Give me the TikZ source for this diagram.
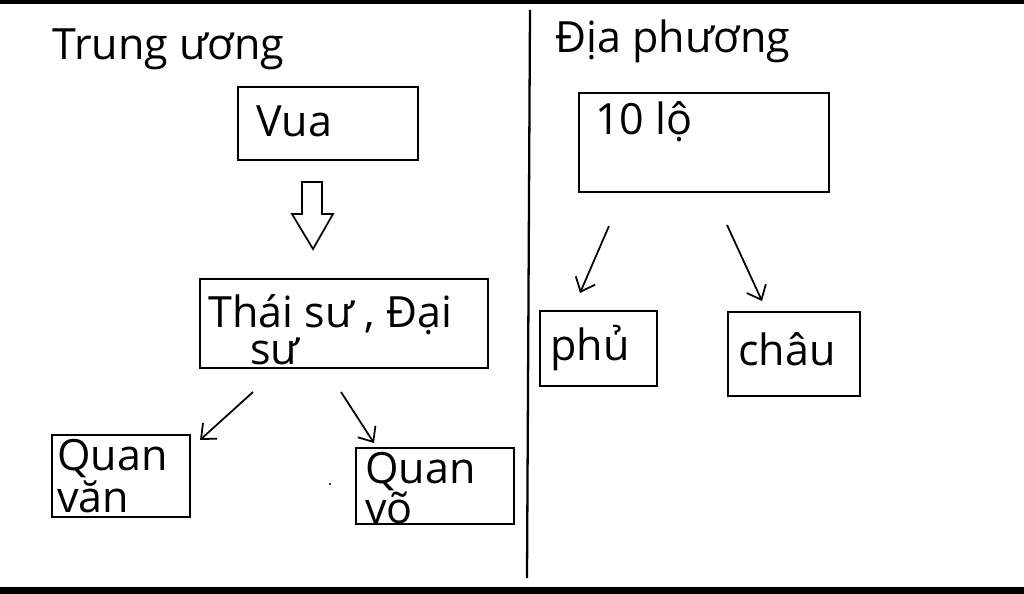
\documentclass[tikz,border=0pt]{standalone}
\usepackage{fontspec}
\setmainfont{Open Sans}
\usetikzlibrary{arrows.meta, positioning}

\tikzset{
  box/.style={draw, line width=1.3pt, inner sep=0pt},
  txt/.style={anchor=base west, inner sep=0pt, font=\fontsize{24.5}{27}\selectfont},
  arr/.style={line width=1pt, -{Straight Barb[length=7pt, width=12pt]}}
}

\begin{document}
\begin{tikzpicture}[x=0.02cm, y=-0.02cm]
    \useasboundingbox (0,0) rectangle (1024,594);
    % frame lines
    \fill (0,0) rectangle (1024,4);
    \fill (0,587) rectangle (1024,594);
    \coordinate (top) at (530,10);
    \coordinate (bot) at (527,578);
    \draw[line width=1.3pt] (top) -- (bot);

    % headings
    \node[txt] (tw) at (52,60) {Trung ương};
    \node[txt] (dp) at (555,53) {Địa phương};

    % Trung uong
    \node[box, minimum width=3.6cm, minimum height=1.46cm] (vua) at (328,123.5) {};
    \node[txt] at (256,137) {Vua};
    \draw[line width=1pt] (302,182) -- (322,182) -- (322,214) -- (333,214)
        -- (313,249) -- (292,214) -- (302,214) -- cycle;

    \node[box, minimum width=5.76cm, minimum height=1.78cm] (thaisu) at (344,323.5) {};
    \node[txt] at (208,328) {Thái sư , Đại};
    \node[txt] at (250,364) {sư};

    \node[box, minimum width=2.76cm, minimum height=1.64cm] (quanvan) at (121,476) {};
    \node[txt] at (57,470) {Quan};
    \node[txt] at (57,512) {văn};
    \node[box, minimum width=3.16cm, minimum height=1.52cm] (quanvo) at (435,486) {};
    \node[txt] at (365,483) {Quan};
    \node[txt] at (365,523) {võ};
    \fill (330,484) circle (1.2);

    \coordinate (a1) at (253,392);
    \coordinate (a2) at (200,440);
    \coordinate (b1) at (341,392);
    \coordinate (b2) at (374,443);
    \draw[arr] (a1) -- (a2);
    \draw[arr] (b1) -- (b2);

    % Dia phuong
    \node[box, minimum width=5.0cm, minimum height=1.98cm] (lo) at (704,142.5) {};
    \node[txt] at (595,135) {10 lộ};
    \node[box, minimum width=2.34cm, minimum height=1.5cm] (phu) at (598.5,348.5) {};
    \node[txt] at (550,360) {phủ};
    \node[box, minimum width=2.64cm, minimum height=1.68cm] (chau) at (794,354) {};
    \node[txt] at (738,365) {châu};

    \coordinate (c1) at (609,226);
    \coordinate (c2) at (580,293);
    \coordinate (d1) at (727,225);
    \coordinate (d2) at (762,301);
    \draw[arr] (c1) -- (c2);
    \draw[arr] (d1) -- (d2);
\end{tikzpicture}
\end{document}
